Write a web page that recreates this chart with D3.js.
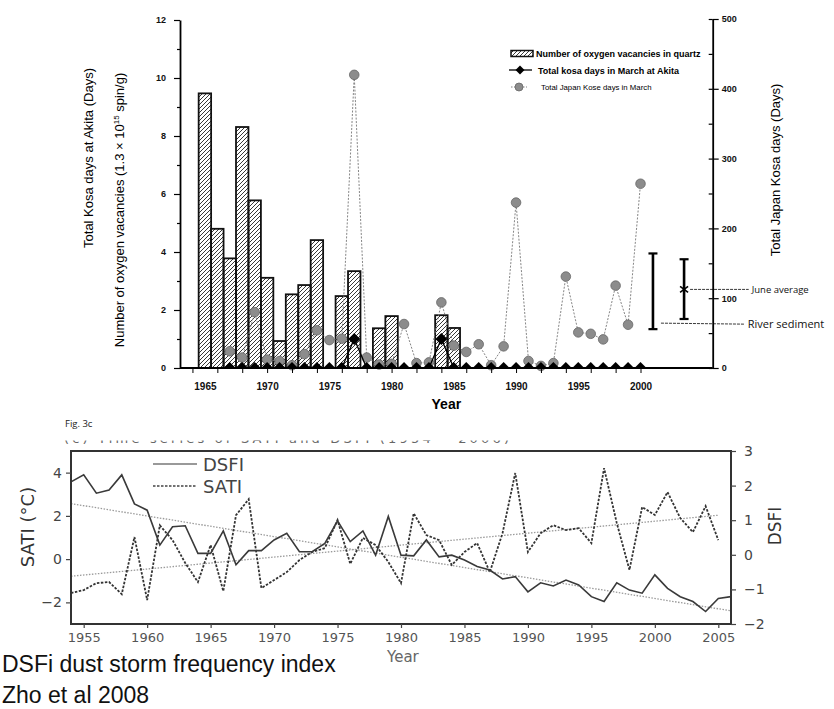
<!DOCTYPE html>
<html>
<head>
<meta charset="utf-8">
<script src="https://cdnjs.cloudflare.com/ajax/libs/d3/7.8.5/d3.min.js"></script>
<style>
  body { margin: 0; background: #fff; }
  svg { display: block; }
</style>
</head>
<body>
<svg id="chart"></svg>
<script>
'use strict';

// ---- top panel: oxygen vacancies / kosa days ----
var barYears = [1965, 1966, 1967, 1968, 1969, 1970, 1971, 1972, 1973, 1974, 1976, 1977, 1979, 1980, 1984, 1985];
var barValues = [9.47, 4.80, 3.78, 8.31, 5.78, 3.11, 0.93, 2.54, 2.86, 4.41, 2.48, 3.34, 1.37, 1.79, 1.82, 1.38];

var kosaYears = [1967, 1968, 1969, 1970, 1971, 1972, 1973, 1974, 1975, 1976, 1977, 1978, 1979, 1980, 1981, 1982, 1983,
  1984, 1985, 1986, 1987, 1988, 1989, 1990, 1991, 1992, 1993, 1994, 1995, 1996, 1997, 1998, 1999, 2000];
var akitaDays = [0, 0, 0, 0, 0, 0, 0, 0, 0, 0, 1, 0, 0, 0, 0, 0, 0,
  1, 0, 0, 0, 0, 0, 0, 0, 0, 0, 0, 0, 0, 0, 0, 0, 0];
var japanDays = [24, 15, 80, 12, 10, 4, 20, 54, 40, 42, 420, 15, 5, 6, 63, 7, 8,
  94, 32, 23, 34, 4, 31, 237, 10, 3, 7, 131, 51, 49, 41, 118, 62, 264];

var sedimentRange = [1.34, 3.95];
var juneRange = [1.69, 3.75];
var juneAverage = 2.71;
var markYears = [2001, 2003.5];

var leftTicks = [0, 2, 4, 6, 8, 10, 12];
var rightTicks = [0, 100, 200, 300, 400, 500];
var yearTicks = [1965, 1970, 1975, 1980, 1985, 1990, 1995, 2000];

// ---- bottom panel: SATI / DSFI ----
var seriesYears = [1954, 1955, 1956, 1957, 1958, 1959, 1960, 1961, 1962, 1963, 1964, 1965, 1966, 1967, 1968, 1969,
  1970, 1971, 1972, 1973, 1974, 1975, 1976, 1977, 1978, 1979, 1980, 1981, 1982, 1983, 1984, 1985, 1986, 1987,
  1988, 1989, 1990, 1991, 1992, 1993, 1994, 1995, 1996, 1997, 1998, 1999, 2000, 2001, 2002, 2003, 2004, 2005, 2006];
var dsfiValues = [2.11, 2.31, 1.78, 1.87, 2.31, 1.47, 1.29, 0.28, 0.81, 0.84,
  0.04, 0.04, 0.69, -0.29, 0.12, 0.12, 0.43, 0.62, 0.09, 0.09,
  0.33, 0.98, 0.38, 0.69, -0.01, 1.11, -0.01, -0.03, 0.43, -0.06,
  -0.01, -0.15, -0.34, -0.44, -0.70, -0.63, -1.07, -0.81, -0.90, -0.73,
  -0.87, -1.21, -1.35, -0.81, -1.02, -1.11, -0.58, -0.97, -1.21, -1.35,
  -1.64, -1.26, -1.21];
var satiValues = [-1.57, -1.43, -1.11, -1.06, -1.62, 1.02, -1.89, 1.56, 0.88, -0.18,
  -1.06, 0.65, -1.48, 2.03, 2.77, -1.34, -0.97, -0.60, -0.04, 0.33,
  0.51, 1.81, -0.22, 0.98, 0.65, -0.13, -1.11, 2.12, 1.11, 0.88,
  -0.27, 0.33, 0.74, -0.60, 1.20, 3.98, 0.33, 1.20, 1.57, 1.34,
  1.43, 0.74, 4.21, 1.67, -0.50, 2.41, 2.04, 3.10, 1.90, 1.25,
  2.45, 0.88];
var dsfiTrend = [[1954, 1.48], [2006, -1.62]];
var satiTrend = [[1954, -0.79], [2005, 2.03]];

var bottomYearTicks = [1955, 1960, 1965, 1970, 1975, 1980, 1985, 1990, 1995, 2000, 2005];
var satiTicks = [-2, 0, 2, 4];
var dsfiTicks = [-2, -1, 0, 1, 2, 3];

var canvasWidth = 834;
var canvasHeight = 709;

var svg = d3.select('#chart')
  .attr('width', canvasWidth)
  .attr('height', canvasHeight)
  .style('font-family', '"Liberation Sans", Arial, sans-serif');

svg.append('rect')
  .attr('width', canvasWidth)
  .attr('height', canvasHeight)
  .attr('fill', '#fff');

var defs = svg.append('defs');

// hatch for the bars
defs.append('pattern')
  .attr('id', 'hatch')
  .attr('patternUnits', 'userSpaceOnUse')
  .attr('width', 4)
  .attr('height', 4)
  .append('path')
  .attr('d', 'M-1,1 l2,-2 M0,4 l4,-4 M3,5 l2,-2')
  .attr('stroke', '#222')
  .attr('stroke-width', 0.9);

// ================= top panel =================
var upper = { left: 180, right: 712.7, top: 20, bottom: 368 };

var x1 = d3.scaleLinear().domain([1963, 2005.8]).range([upper.left, upper.right]);
var yL = d3.scaleLinear().domain([0, 12]).range([upper.bottom, upper.top]);
var yR = d3.scaleLinear().domain([0, 500]).range([upper.bottom, 19]);

defs.append('clipPath')
  .attr('id', 'topClip')
  .append('rect')
  .attr('x', upper.left)
  .attr('y', 0)
  .attr('width', upper.right - upper.left)
  .attr('height', upper.bottom);

var topArea = svg.append('g');

// bars
var bw = x1(1) - x1(0);
topArea.selectAll('rect.bar')
  .data(barYears)
  .enter()
  .append('rect')
  .attr('class', 'bar')
  .attr('x', function(d) { return x1(d) - bw / 2; })
  .attr('y', function(d, i) { return yL(barValues[i]); })
  .attr('width', bw)
  .attr('height', function(d, i) { return yL(0) - yL(barValues[i]); })
  .attr('fill', 'url(#hatch)')
  .attr('stroke', '#111')
  .attr('stroke-width', 1.8);

// japan kosa days (right axis)
var japanLine = d3.line()
  .x(function(d) { return x1(d); })
  .y(function(d, i) { return yR(japanDays[i]); });

topArea.append('path')
  .attr('d', japanLine(kosaYears))
  .attr('fill', 'none')
  .attr('stroke', '#777')
  .attr('stroke-width', 0.9)
  .attr('stroke-dasharray', '2,1.5');

topArea.selectAll('circle.japan')
  .data(kosaYears)
  .enter()
  .append('circle')
  .attr('class', 'japan')
  .attr('cx', function(d) { return x1(d); })
  .attr('cy', function(d, i) { return yR(japanDays[i]); })
  .attr('r', 4.8)
  .attr('fill', '#8c8c8c')
  .attr('stroke', '#666')
  .attr('stroke-width', 0.8);

// akita kosa days (left axis)
var akitaG = topArea.append('g').attr('clip-path', 'url(#topClip)');
var akitaLine = d3.line()
  .x(function(d) { return x1(d); })
  .y(function(d, i) { return yL(akitaDays[i]); });

akitaG.append('path')
  .attr('d', akitaLine(kosaYears))
  .attr('fill', 'none')
  .attr('stroke', '#000')
  .attr('stroke-width', 1.3);

var diamond = d3.symbol().type(d3.symbolSquare).size(72);
akitaG.selectAll('path.akita')
  .data(kosaYears)
  .enter()
  .append('path')
  .attr('class', 'akita')
  .attr('d', diamond)
  .attr('transform', function(d, i) {
    return 'translate(' + x1(d) + ',' + yL(akitaDays[i]) + ') rotate(45)';
  })
  .attr('fill', '#000');

// range bars
function rangeBar(year, range) {
  var cx = x1(year);
  topArea.append('line')
    .attr('x1', cx).attr('x2', cx)
    .attr('y1', yL(range[0])).attr('y2', yL(range[1]))
    .attr('stroke', '#000').attr('stroke-width', 2.6);
  range.forEach(function(v) {
    topArea.append('line')
      .attr('x1', cx - 4.5).attr('x2', cx + 4.5)
      .attr('y1', yL(v)).attr('y2', yL(v))
      .attr('stroke', '#000').attr('stroke-width', 2.2);
  });
}
rangeBar(markYears[0], sedimentRange);
rangeBar(markYears[1], juneRange);

var jx = x1(markYears[1]);
var jy = yL(juneAverage);
topArea.append('path')
  .attr('d', 'M' + (jx - 4) + ',' + (jy - 3) + 'L' + (jx + 4) + ',' + (jy + 3) +
    'M' + (jx - 4) + ',' + (jy + 3) + 'L' + (jx + 4) + ',' + (jy - 3))
  .attr('stroke', '#000')
  .attr('stroke-width', 1.6);

// leader lines + notes
topArea.append('line')
  .attr('x1', jx + 6).attr('x2', upper.right + 36)
  .attr('y1', jy).attr('y2', jy)
  .attr('stroke', '#222').attr('stroke-width', 0.9).attr('stroke-dasharray', '3,1');
topArea.append('line')
  .attr('x1', x1(markYears[0]) + 8).attr('x2', upper.right + 32)
  .attr('y1', yL(sedimentRange[0]) - 6).attr('y2', yL(sedimentRange[0]) - 5)
  .attr('stroke', '#222').attr('stroke-width', 0.9).attr('stroke-dasharray', '3,1');

svg.append('text')
  .attr('x', upper.right + 39)
  .attr('y', jy + 3.5)
  .style('font-family', '"Open Sans", sans-serif')
  .style('font-size', '9.5px')
  .attr('fill', '#111')
  .text('June average');
svg.append('text')
  .attr('x', upper.right + 35)
  .attr('y', yL(sedimentRange[0]) - 1)
  .style('font-family', '"Open Sans", sans-serif')
  .style('font-size', '11px')
  .attr('fill', '#111')
  .text('River sediment');

// axes
svg.append('line')
  .attr('x1', upper.left).attr('x2', upper.right)
  .attr('y1', upper.bottom).attr('y2', upper.bottom)
  .attr('stroke', '#000').attr('stroke-width', 2);

var leftAxis = svg.append('g')
  .attr('transform', 'translate(' + upper.left + ',0)')
  .call(d3.axisLeft(yL).tickValues(d3.range(0, 13)).tickSize(6).tickSizeOuter(0).tickPadding(8)
    .tickFormat(function(d) { return leftTicks.indexOf(d) >= 0 ? d : ''; }));
leftAxis.selectAll('.tick line')
  .attr('x2', function(d) { return d % 2 ? -3 : -6; });

var rightAxis = svg.append('g')
  .attr('transform', 'translate(' + upper.right + ',0)')
  .call(d3.axisRight(yR).tickValues(d3.range(0, 501, 50)).tickSize(-4).tickSizeOuter(0).tickFormat(''));
var rightLabels = svg.append('g')
  .attr('transform', 'translate(' + upper.right + ',0)')
  .call(d3.axisRight(yR).tickValues(rightTicks).tickSize(6).tickSizeOuter(0).tickPadding(3));
rightLabels.select('.domain').remove();

svg.append('g')
  .attr('transform', 'translate(0,' + upper.bottom + ')')
  .call(d3.axisBottom(x1).tickValues(d3.range(1964, 2001, 2)).tickSize(5).tickSizeOuter(0).tickFormat(''))
  .select('.domain').remove();
var xLabels = svg.append('g')
  .attr('transform', 'translate(0,' + upper.bottom + ')')
  .call(d3.axisBottom(x1).tickValues(yearTicks).tickSize(0).tickPadding(15).tickFormat(d3.format('d')));
xLabels.select('.domain').remove();

[leftAxis, rightAxis, rightLabels, xLabels].forEach(function(g) {
  g.selectAll('.domain').attr('stroke', '#000').attr('stroke-width', 1.8);
  g.selectAll('.tick line').attr('stroke', '#000').attr('stroke-width', 1.2);
  g.selectAll('text')
    .style('font-family', '"Liberation Sans", Arial, sans-serif')
    .style('font-weight', 'bold')
    .style('font-size', '9px')
    .attr('fill', '#111');
});
xLabels.selectAll('text').style('font-size', '10px');

// axis titles
svg.append('text')
  .attr('x', (upper.left + upper.right) / 2)
  .attr('y', 409)
  .attr('text-anchor', 'middle')
  .style('font-size', '14px')
  .style('font-weight', 'bold')
  .text('Year');

svg.append('text')
  .attr('transform', 'translate(93,158) rotate(-90)')
  .attr('text-anchor', 'middle')
  .style('font-size', '13px')
  .text('Total Kosa days at Akita (Days)');

var vac = svg.append('text')
  .attr('transform', 'translate(124,210) rotate(-90)')
  .attr('text-anchor', 'middle')
  .style('font-size', '13px');
vac.append('tspan').text('Number of oxygen vacancies (1.3 \u00d7 10');
vac.append('tspan').attr('dy', -5).style('font-size', '8px').text('15');
vac.append('tspan').attr('dy', 5).text(' spin/g)');

svg.append('text')
  .attr('transform', 'translate(780,170) rotate(-90)')
  .attr('text-anchor', 'middle')
  .style('font-size', '13px')
  .text('Total Japan Kosa days  (Days)');

// legend
var lg = svg.append('g');
lg.append('rect')
  .attr('x', 511).attr('y', 50.5).attr('width', 22).attr('height', 6)
  .attr('fill', 'url(#hatch)').attr('stroke', '#111').attr('stroke-width', 1.5);
lg.append('text').attr('x', 536).attr('y', 57)
  .style('font-size', '9px').style('font-weight', 'bold').text('Number of oxygen vacancies in quartz');
lg.append('line').attr('x1', 509).attr('x2', 532).attr('y1', 70).attr('y2', 70)
  .attr('stroke', '#000').attr('stroke-width', 1.3);
lg.append('path').attr('d', d3.symbol().type(d3.symbolSquare).size(40))
  .attr('transform', 'translate(520,70) rotate(45)').attr('fill', '#000');
lg.append('text').attr('x', 538).attr('y', 73.5)
  .style('font-size', '9px').style('font-weight', 'bold').text('Total kosa days in March at Akita');
lg.append('line').attr('x1', 511).attr('x2', 527).attr('y1', 87).attr('y2', 87)
  .attr('stroke', '#777').attr('stroke-width', 0.9).attr('stroke-dasharray', '1.5,1.5');
lg.append('circle').attr('cx', 519).attr('cy', 87).attr('r', 4)
  .attr('fill', '#8c8c8c').attr('stroke', '#666').attr('stroke-width', 0.8);
lg.append('text').attr('x', 541).attr('y', 90)
  .style('font-size', '7.8px').text('Total Japan Kose days in March');

// ================= bottom panel =================
var lower = { left: 71, right: 731, top: 451, bottom: 624 };

var x2 = d3.scaleLinear().domain([1954, 2006]).range([lower.left, lower.right]);
var yS = d3.scaleLinear().domain([-3, 5]).range([lower.bottom, lower.top]);
var yD = d3.scaleLinear().domain([-2, 3]).range([lower.bottom, lower.top]);

svg.append('text')
  .attr('x', 65).attr('y', 427)
  .style('font-family', '"Open Sans", sans-serif')
  .style('font-size', '9.5px')
  .attr('fill', '#222')
  .text('Fig. 3c');

// cut-off caption line of the scanned figure
defs.append('clipPath')
  .attr('id', 'capClip')
  .append('rect')
  .attr('x', 60).attr('y', 440.5).attr('width', 470).attr('height', 3.5);
svg.append('text')
  .attr('clip-path', 'url(#capClip)')
  .attr('x', 64).attr('y', 443)
  .style('font-family', '"DejaVu Sans", sans-serif')
  .style('font-size', '13px')
  .attr('fill', '#666')
  .attr('textLength', 445)
  .text('(c)  Time series of SATI and DSFI (1954 \u2013 2006)');

defs.append('clipPath')
  .attr('id', 'botClip')
  .append('rect')
  .attr('x', lower.left).attr('y', lower.top)
  .attr('width', lower.right - lower.left).attr('height', lower.bottom - lower.top);

var plot = svg.append('g').attr('clip-path', 'url(#botClip)');

var trendLine = d3.line()
  .x(function(d) { return x2(d[0]); });

plot.append('path')
  .attr('d', trendLine.y(function(d) { return yD(d[1]); })(dsfiTrend))
  .attr('fill', 'none').attr('stroke', '#9a9a9a').attr('stroke-width', 1.3)
  .attr('stroke-dasharray', '1.5,1.5');
plot.append('path')
  .attr('d', trendLine.y(function(d) { return yS(d[1]); })(satiTrend))
  .attr('fill', 'none').attr('stroke', '#9a9a9a').attr('stroke-width', 1.3)
  .attr('stroke-dasharray', '1.5,1.5');

var dsfiLine = d3.line()
  .x(function(d) { return x2(d); })
  .y(function(d, i) { return yD(dsfiValues[i]); });
var satiLine = d3.line()
  .x(function(d) { return x2(d); })
  .y(function(d, i) { return yS(satiValues[i]); });

plot.append('path')
  .attr('d', satiLine(seriesYears.slice(0, satiValues.length)))
  .attr('fill', 'none').attr('stroke', '#333').attr('stroke-width', 1.8)
  .attr('stroke-dasharray', '2.5,1.5');
plot.append('path')
  .attr('d', dsfiLine(seriesYears))
  .attr('fill', 'none').attr('stroke', '#3a3a3a').attr('stroke-width', 1.6);

// frame
svg.append('rect')
  .attr('x', lower.left).attr('y', lower.top)
  .attr('width', lower.right - lower.left).attr('height', lower.bottom - lower.top)
  .attr('fill', 'none').attr('stroke', '#333').attr('stroke-width', 2);

var bx = svg.append('g')
  .attr('transform', 'translate(0,' + lower.bottom + ')')
  .call(d3.axisBottom(x2).tickValues(bottomYearTicks).tickSize(4).tickSizeOuter(0).tickPadding(5)
    .tickFormat(d3.format('d')));
var bl = svg.append('g')
  .attr('transform', 'translate(' + lower.left + ',0)')
  .call(d3.axisLeft(yS).tickValues(satiTicks).tickSize(5).tickSizeOuter(0).tickPadding(4));
var br = svg.append('g')
  .attr('transform', 'translate(' + lower.right + ',0)')
  .call(d3.axisRight(yD).tickValues(dsfiTicks).tickSize(5).tickSizeOuter(0).tickPadding(8)
    .tickFormat(d3.format('d')));

[bx, bl, br].forEach(function(g) {
  g.select('.domain').remove();
  g.selectAll('.tick line').attr('stroke', '#444').attr('stroke-width', 1.2);
  g.selectAll('text')
    .style('font-family', '"DejaVu Sans", sans-serif')
    .style('font-size', '14px')
    .attr('fill', '#444');
});
bx.selectAll('text').style('font-size', '13px').attr('fill', '#555');

// legend
svg.append('line').attr('x1', 153).attr('x2', 197).attr('y1', 464).attr('y2', 464)
  .attr('stroke', '#777').attr('stroke-width', 1.4);
svg.append('line').attr('x1', 153).attr('x2', 197).attr('y1', 486).attr('y2', 486)
  .attr('stroke', '#444').attr('stroke-width', 1.6).attr('stroke-dasharray', '2.5,1.5');
svg.append('text').attr('x', 203).attr('y', 471)
  .style('font-family', '"DejaVu Sans", sans-serif').style('font-size', '18px')
  .attr('fill', '#444').text('DSFI');
svg.append('text').attr('x', 203).attr('y', 493)
  .style('font-family', '"DejaVu Sans", sans-serif').style('font-size', '18px')
  .attr('fill', '#444').text('SATI');

// axis titles
svg.append('text')
  .attr('transform', 'translate(34,527) rotate(-90)')
  .attr('text-anchor', 'middle')
  .style('font-family', '"DejaVu Sans", sans-serif')
  .style('font-size', '18px')
  .attr('fill', '#333')
  .text('SATI (\u00b0C)');
svg.append('text')
  .attr('transform', 'translate(781,526) rotate(-90)')
  .attr('text-anchor', 'middle')
  .style('font-family', '"DejaVu Sans", sans-serif')
  .style('font-size', '17px')
  .attr('fill', '#333')
  .text('DSFI');
svg.append('text')
  .attr('x', 387).attr('y', 662)
  .style('font-family', '"DejaVu Sans", sans-serif')
  .style('font-size', '15px')
  .attr('fill', '#666')
  .text('Year');

// caption
svg.append('text')
  .attr('x', 2).attr('y', 672)
  .style('font-size', '23px')
  .attr('fill', '#111')
  .text('DSFi dust storm frequency index');
svg.append('text')
  .attr('x', 2).attr('y', 703)
  .style('font-size', '23px')
  .attr('fill', '#111')
  .text('Zho et al 2008');
</script>
</body>
</html>
